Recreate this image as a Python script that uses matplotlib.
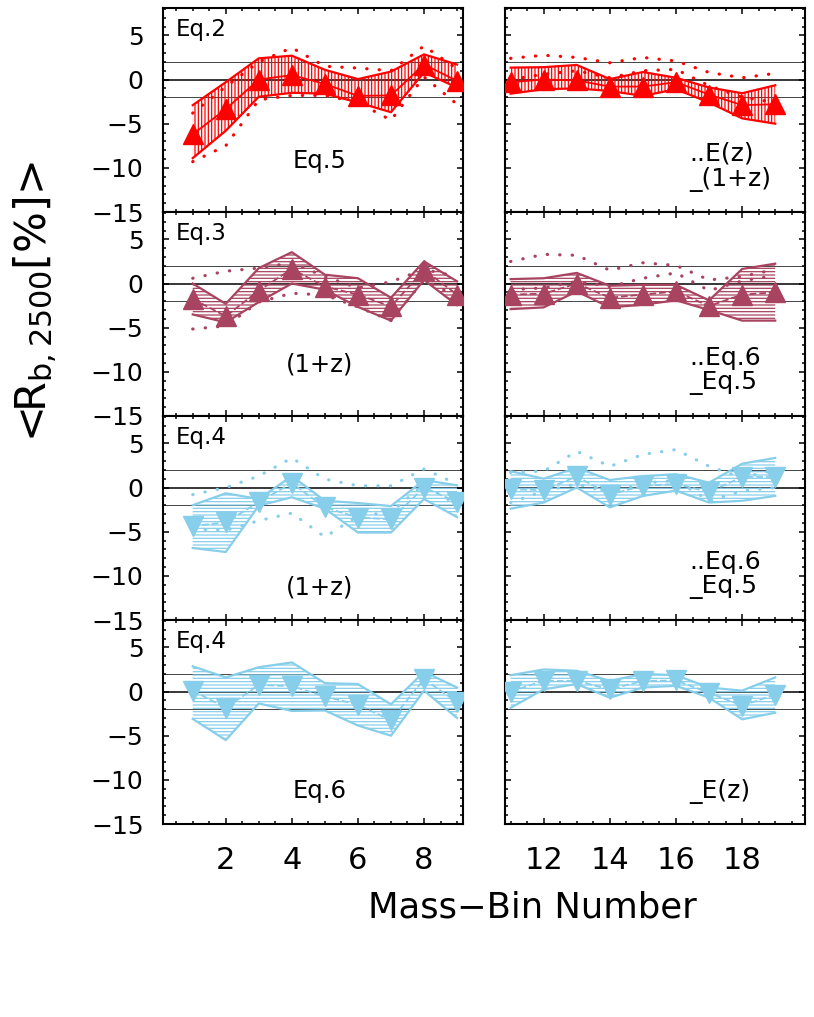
import matplotlib
matplotlib.use("Agg")
import matplotlib.pyplot as plt
from matplotlib.ticker import MultipleLocator, FixedLocator

plt.rcParams['font.family'] = ['DejaVu Sans']
plt.rcParams['hatch.linewidth'] = 0.9

# ---------------- data ----------------
bins_left = [1, 2, 3, 4, 5, 6, 7, 8, 9]
bins_right = [11, 12, 13, 14, 15, 16, 17, 18, 19]

# Row 1 (Eq.2, red)
r1L_mid = [-6.2, -3.35, 0.0, 0.5, -0.5, -1.85, -1.8, 1.7, -0.15]
r1L_up = [-2.9, -0.3, 2.4, 2.7, 1.1, 0.05, 0.9, 2.85, 1.7]
r1L_lo = [-8.9, -5.8, -1.95, -1.5, -1.6, -2.6, -3.7, 0.8, -0.9]
r1L_dup = [-3.8, -0.8, 2.0, 3.6, 1.5, 1.3, 1.0, 3.8, 1.2]
r1L_dlo = [-9.3, -7.5, -2.3, -1.8, -1.8, -2.6, -4.6, 0.3, -2.8]
r1R_mid = [-0.3, 0.0, -0.1, -0.8, -0.8, -0.3, -1.7, -2.9, -2.8]
r1R_up = [1.35, 1.4, 1.65, 0.05, 0.85, 0.2, -0.9, -1.55, -0.65]
r1R_lo = [-1.6, -1.1, -1.0, -1.3, -1.85, -1.1, -2.6, -4.4, -5.0]
r1R_dup = [2.4, 2.75, 2.5, 1.9, 2.5, 2.1, 0.8, 0.2, 0.7]
r1R_dlo = [0.0, 0.6, 1.0, 0.2, 1.0, 1.15, -0.7, -2.0, -2.6]

# Row 2 (Eq.3, maroon)
r2L_mid = [-1.75, -3.7, -0.8, 1.65, -0.35, -1.25, -2.6, 1.55, -1.25]
r2L_up = [0.0, -2.3, 1.75, 3.55, 1.0, 0.6, -1.6, 2.5, 0.25]
r2L_lo = [-3.5, -4.4, -2.1, 0.0, -0.7, -2.65, -4.2, 0.4, -2.45]
r2L_dup = [0.6, 1.4, 1.75, 2.35, 0.8, -0.5, 0.2, 1.6, 0.8]
r2L_dlo = [-5.15, -4.8, -2.1, -1.1, -1.3, -2.65, -4.2, 0.4, -1.5]
r2R_mid = [-1.25, -1.15, 0.0, -1.6, -1.25, -0.9, -2.55, -1.25, -1.0]
r2R_up = [0.5, 0.6, 1.2, -0.25, -0.15, -0.15, -1.9, 1.65, 2.25]
r2R_lo = [-2.9, -2.7, -0.9, -2.7, -2.4, -1.9, -3.0, -4.2, -4.2]
r2R_dup = [2.5, 3.3, 3.2, 1.5, 2.35, 2.05, 0.4, 0.8, 1.6]
r2R_dlo = [-0.7, -0.5, 0.25, -0.35, 0.6, 1.2, -0.8, 0.3, 0.9]

# Row 3 (Eq.4, sky blue)
r3L_mid = [-4.35, -3.95, -1.65, 0.5, -2.25, -3.4, -3.6, 0.0, -1.65]
r3L_up = [-2.0, -0.65, -1.3, 1.3, -1.5, -1.75, -2.1, 0.85, 0.25]
r3L_lo = [-6.85, -7.3, -2.05, -1.1, -2.4, -5.1, -5.1, -1.3, -3.35]
r3L_dup = [-0.8, 0.0, 1.3, 3.35, 0.95, 0.2, 0.2, 2.1, 0.4]
r3L_dlo = [-4.7, -4.85, -3.75, -2.9, -5.6, -3.2, -2.8, 0.4, -2.0]
r3R_mid = [-0.2, -0.3, 1.25, -0.8, 0.2, 0.4, -0.5, 1.2, 1.2]
r3R_up = [1.85, 1.0, 2.25, 0.85, 1.3, 1.5, 0.55, 2.7, 3.35]
r3R_lo = [-2.4, -1.7, 0.0, -2.25, -0.95, -0.35, -1.7, -1.5, -0.95]
r3R_dup = [1.7, 1.85, 4.1, 2.4, 3.75, 4.3, 2.4, 1.1, 2.0]
r3R_dlo = [-1.7, -0.4, 0.4, -0.6, 0.5, 0.8, -1.5, -0.4, 0.0]

# Row 4 (Eq.4 / Eq.6, sky blue)
r4L_mid = [0.1, -1.85, 0.75, 0.6, -0.55, -1.5, -3.25, 1.4, -1.2]
r4L_up = [2.85, 1.6, 2.75, 3.3, 0.95, 0.85, -1.45, 2.25, 0.45]
r4L_lo = [-3.1, -5.5, -1.35, -2.2, -2.15, -3.85, -5.0, 0.1, -3.0]
r4R_mid = [0.0, 1.2, 1.2, 0.25, 1.2, 1.25, -0.15, -1.6, -0.35]
r4R_up = [1.85, 2.5, 2.35, 1.2, 2.0, 1.85, 0.45, 0.1, 1.6]
r4R_lo = [-1.85, 0.25, 0.85, -0.7, 0.45, 0.65, -0.7, -3.15, -2.4]

left_ticks = [2, 4, 6, 8]
right_ticks = [12, 14, 16, 18]
y_ticks = [5, 0, -5, -10, -15]

row_titles = ["Eq.2", "Eq.3", "Eq.4", "Eq.4"]
left_notes = ["Eq.5", "(1+z)", "(1+z)", "Eq.6"]
right_notes = [["..E(z)", "_(1+z)"], ["..Eq.6", "_Eq.5"], ["..Eq.6", "_Eq.5"], ["_E(z)"]]

RED = "#ff0000"
MAROON = "#a8445f"
SKY = "#87ceeb"

rows = [
    dict(color=RED, marker="^", hatch="|||||", mid_ls="-",
         L=(r1L_mid, r1L_up, r1L_lo, r1L_dup, r1L_dlo),
         R=(r1R_mid, r1R_up, r1R_lo, r1R_dup, r1R_dlo)),
    dict(color=MAROON, marker="^", hatch="-----", mid_ls="--",
         L=(r2L_mid, r2L_up, r2L_lo, r2L_dup, r2L_dlo),
         R=(r2R_mid, r2R_up, r2R_lo, r2R_dup, r2R_dlo)),
    dict(color=SKY, marker="v", hatch="-----", mid_ls="--",
         L=(r3L_mid, r3L_up, r3L_lo, r3L_dup, r3L_dlo),
         R=(r3R_mid, r3R_up, r3R_lo, r3R_dup, r3R_dlo)),
    dict(color=SKY, marker="v", hatch="-----", mid_ls="--",
         L=(r4L_mid, r4L_up, r4L_lo, None, None),
         R=(r4R_mid, r4R_up, r4R_lo, None, None)),
]

# ---------------- figure ----------------
W, H = 814, 1017
fig = plt.figure(figsize=(W / 100, H / 100), dpi=100)

panel_h = 204
top0 = 8
lx0, rx0, pw = 163, 505, 300


def style_axes(ax, xticks, xlim, show_x, show_y):
    ax.set_xlim(*xlim)
    ax.set_ylim(-15, 8.1)
    ax.xaxis.set_major_locator(FixedLocator(xticks))
    ax.xaxis.set_minor_locator(MultipleLocator(0.5))
    ax.yaxis.set_major_locator(FixedLocator(y_ticks))
    ax.yaxis.set_minor_locator(MultipleLocator(1))
    ax.tick_params(which="both", direction="in", top=True, right=True,
                   width=1.1, colors="black")
    ax.tick_params(which="major", length=4)
    ax.tick_params(which="minor", length=2.2)
    ax.tick_params(axis="x", labelsize=22, pad=16)
    ax.tick_params(axis="y", labelsize=18, pad=14)
    if not show_x:
        ax.tick_params(axis="x", labelbottom=False)
    if not show_y:
        ax.tick_params(axis="y", labelleft=False)
    for s in ax.spines.values():
        s.set_linewidth(1.5)


def draw_panel(ax, bins, data, cfg):
    mid, up, lo, dup, dlo = data
    c = cfg["color"]
    ax.axhline(0, color="black", lw=1.1, zorder=1)
    ax.axhline(2, color="#444444", lw=0.7, zorder=1)
    ax.axhline(-2, color="#444444", lw=0.7, zorder=1)
    ax.fill_between(bins, lo, up, facecolor="none", edgecolor=c,
                    hatch=cfg["hatch"], linewidth=0, zorder=2)
    ax.plot(bins, up, color=c, lw=1.6, zorder=3)
    ax.plot(bins, lo, color=c, lw=1.6, zorder=3)
    ax.plot(bins, mid, color=c, lw=1.3, ls=cfg["mid_ls"], zorder=3)
    if dup is not None:
        for d in (dup, dlo):
            ax.plot(bins, d, color=c, lw=2.3, ls=(0, (0.1, 3.8)),
                    dash_capstyle="round", zorder=3)
    ax.plot(bins, mid, ls="none", marker=cfg["marker"], ms=15,
            color=c, mec=c, zorder=4)


for i, cfg in enumerate(rows):
    top = top0 + i * panel_h
    bottom_frac = 1 - (top + panel_h) / H
    h_frac = panel_h / H
    axL = fig.add_axes([lx0 / W, bottom_frac, pw / W, h_frac])
    axR = fig.add_axes([rx0 / W, bottom_frac, pw / W, h_frac])
    last = (i == len(rows) - 1)
    style_axes(axL, left_ticks, (0.1, 9.18), last, True)
    style_axes(axR, right_ticks, (10.83, 19.9), last, False)
    draw_panel(axL, bins_left, cfg["L"], cfg)
    draw_panel(axR, bins_right, cfg["R"], cfg)

    axL.text(0.5, 5.7, row_titles[i], fontsize=16.5, ha="left", va="center")
    note_y = -9.2 if i < 2 else -11.3
    axL.text(4.85, note_y, left_notes[i], fontsize=17.5, ha="center", va="center")
    notes = right_notes[i]
    if len(notes) == 2:
        axR.text(16.4, -8.4, notes[0], fontsize=18, ha="left", va="center")
        axR.text(16.4, -11.3, notes[1], fontsize=18, ha="left", va="center")
    else:
        axR.text(16.4, -11.3, notes[0], fontsize=18, ha="left", va="center")

fig.text(532 / W, 1 - 908 / H, "Mass\u2212Bin Number", fontsize=25.5,
         ha="center", va="center")
fig.text(36 / W, 1 - 302 / H, r"<R$_{\rm b,2500}$[%]>", fontsize=31,
         rotation=90, ha="center", va="center")

fig.savefig("out.png", dpi=100)
